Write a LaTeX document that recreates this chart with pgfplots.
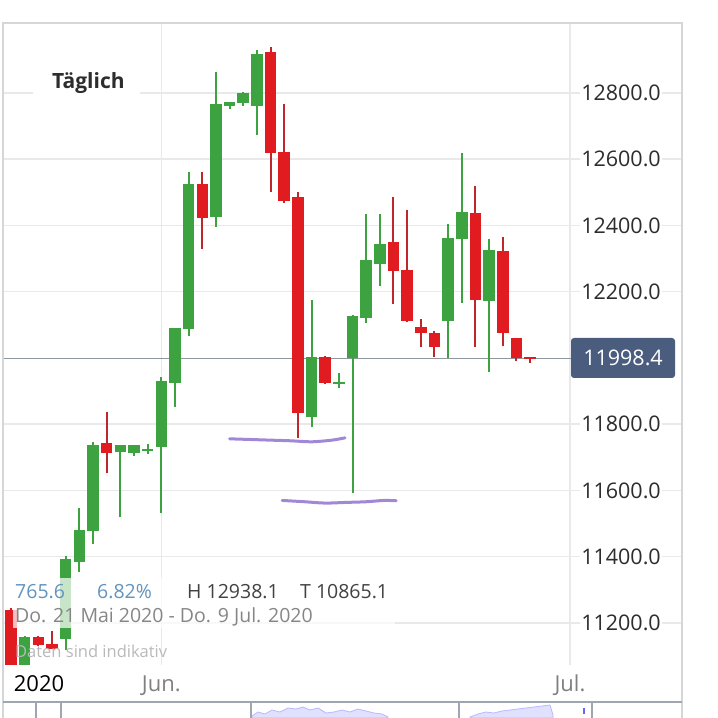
\documentclass[border=0pt]{standalone}
\usepackage{fontspec}
\setmainfont{Open Sans}
\usepackage{pgfplots}
\pgfplotsset{compat=1.18}
\usepackage{pgfplotstable}

\definecolor{cg}{RGB}{61,163,64}
\definecolor{cr}{RGB}{224,28,33}
\definecolor{crw}{RGB}{190,40,45}
\definecolor{gridc}{RGB}{233,233,235}
\definecolor{framec}{RGB}{214,214,216}
\definecolor{pricec}{RGB}{142,151,158}
\definecolor{boxc}{RGB}{74,93,126}
\definecolor{lav}{RGB}{160,136,214}
\definecolor{infob}{RGB}{100,148,190}
\definecolor{txt}{RGB}{45,45,45}
\definecolor{navc}{RGB}{160,166,175}
\newcommand\fs[1]{\fontsize{#1}{#1}\selectfont}

\pgfplotstableread{
i o h l c
2 11000 11160 10950 11157
5 11153 11401 11117 11392
6 11383 11546 11353 11480
7 11477 11746 11437 11737
9 11715 11737 11519 11737
10 11712 11737 11703 11737
11 11719 11740 11709 11725
12 11731 11942 11531 11930
13 11924 12092 11851 12090
14 12087 12561 12066 12525
16 12425 12863 12395 12767
17 12761 12773 12752 12773
18 12770 12803 12761 12800
19 12761 12930 12673 12918
23 11821 12175 11791 12002
25 11921 11954 11909 11927
26 11999 12129 11592 12126
27 12120 12434 12105 12295
28 12283 12434 12217 12344
33 12111 12404 11999 12362
34 12359 12619 12166 12440
36 12172 12359 11957 12326
}\greens

\pgfplotstableread{
i o h l c
1 11238 11245 10865.1 11000
3 11157 11160 11130 11135
4 11138 11175 11120 11123
8 11743 11836 11652 11712
15 12525 12561 12329 12422
20 12924 12938.1 12501 12619
21 12622 12767 12468 12474
22 12486 12501 11758 11833
24 12002 12005 11920 11924
29 12350 12486 12163 12262
30 12265 12447 12108 12111
31 12093 12117 12033 12075
32 12075 12081 12002 12033
35 12437 12519 12033 12175
37 12323 12365 12036 12075
38 12060 12060 11990 11999
39 12003 12003 11984 11998.4
}\reds

\begin{document}
\begin{tikzpicture}
\path[use as bounding box, fill=white] (0,0) rectangle (718pt,718pt);
\begin{axis}[
  at={(3pt,53pt)}, anchor=south west,
  width=679pt, height=642pt, scale only axis,
  xmin=0.414, xmax=50.12, ymin=11073.2, ymax=13011.3,
  axis line style={draw=none},
  major tick length=0pt,
  ytick={11200,11400,11600,11800,12200,12400,12600,12800},
  scaled y ticks=false,
  ymajorgrids, xmajorgrids,
  grid style={gridc, line width=1.5pt},
  xtick={12,41.92}, xticklabels={Jun.,Jul.},
  extra x ticks={3.05}, extra x tick labels={2020},
  extra x tick style={grid=none, xticklabel style={text=black}},
  xticklabel style={anchor=base, yshift=-27pt, text=gray, font=\fs{22}},
  yticklabel pos=right,
  yticklabel style={anchor=center, xshift=-61pt, fill=white, inner sep=1pt, text=txt, font=\fs{21.5}},
  /pgf/number format/.cd, fixed, fixed zerofill, precision=1, 1000 sep={}, assume math mode=true,
]
\addplot[color=pricec, line width=1.5pt, forget plot] coordinates {(0.414,11998.4) (42,11998.4)};
% wicks
\addplot[draw=none, mark=none, forget plot, error bars/.cd, y dir=plus, y explicit, error mark=none,
  error bar style={line width=2pt, draw=cg}] table[x=i, y=l, y error expr=\thisrow{h}-\thisrow{l}] {\greens};
\addplot[draw=none, mark=none, forget plot, error bars/.cd, y dir=plus, y explicit, error mark=none,
  error bar style={line width=2pt, draw=crw}] table[x=i, y=l, y error expr=\thisrow{h}-\thisrow{l}] {\reds};
% bodies
\addplot[draw=none, mark=none, forget plot, error bars/.cd, y dir=plus, y explicit, error mark=none,
  error bar style={line width=11.5pt, draw=cg}] table[x=i, y=o, y error expr=\thisrow{c}-\thisrow{o}] {\greens};
\addplot[draw=none, mark=none, forget plot, error bars/.cd, y dir=plus, y explicit, error mark=none,
  error bar style={line width=11.5pt, draw=cr}] table[x=i, y=c, y error expr=\thisrow{o}-\thisrow{c}] {\reds};
% hand-drawn support strokes
\addplot[smooth, color=lav, line width=3pt, line cap=round, forget plot] coordinates {
 (17.0,11756) (18.5,11754) (20.0,11752) (21.5,11750) (23.0,11747) (24.5,11752) (25.45,11759)};
\addplot[smooth, color=lav, line width=3pt, line cap=round, forget plot] coordinates {
 (20.85,11570) (22.5,11566) (24.0,11562) (25.5,11564) (27.0,11566) (28.3,11570) (29.2,11569)};
\end{axis}

% navigator area chart
\begin{axis}[
  at={(251pt,0pt)}, anchor=south west,
  width=329pt, height=16pt, scale only axis,
  xmin=251, xmax=580, ymin=0, ymax=16, hide axis, clip=true,
]
\addplot[fill=blue!12, draw=blue!28, line width=0.8pt] coordinates {
 (252,2) (258,6) (265,4) (272,8) (280,6) (288,10) (296,9) (303,11) (310,8) (318,10) (326,5) (334,6) (342,8) (350,6) (358,9) (366,7) (374,5) (382,4) (388,1)} \closedcycle;
\addplot[fill=blue!12, draw=blue!28, line width=0.8pt] coordinates {
 (470,1) (478,4) (486,6) (494,5) (502,7) (510,8) (518,9) (526,10) (534,11) (542,12) (550,13) (553,3)} \closedcycle;
\end{axis}

\begin{scope}[shift={(0,718pt)}, yscale=-1, x=1pt, y=1pt]
  % frame
  \draw[framec, line width=1.5pt] (3,718) -- (3,23) -- (682,23) -- (682,718);
  % navigator
  \draw[navc, line width=1.5pt] (3,702) -- (682,702);
  \foreach \xx in {36,61,251,459,592} \draw[navc, line width=1.2pt] (\xx,702) -- (\xx,718);
  \draw[blue!60, line width=1.5pt] (584,708) -- (584,714);
  % title
  \fill[white] (33,66) rectangle (140,96);
  \node[anchor=base west, inner sep=0pt, text=txt, font=\fs{21}\bfseries] at (52,89) {Täglich};
  % price label
  \fill[boxc, rounded corners=3pt] (571,338) rectangle (675,378);
  \node[text=white, font=\fs{21.5}, inner sep=0pt] at (623,358) {11998.4};
  % info overlay
  \fill[white, fill opacity=0.72] (13,578) rectangle (395,628);
  \node[anchor=base west, inner sep=0pt, text=infob, font=\fs{19.5}] at (15,599) {765.6};
  \node[anchor=base west, inner sep=0pt, text=infob, font=\fs{19.5}] at (97,599) {6.82\%};
  \node[anchor=base west, inner sep=0pt, text=txt!90, font=\fs{19.5}] at (187,599) {H 12938.1};
  \node[anchor=base west, inner sep=0pt, text=txt!90, font=\fs{19.5}] at (300,599) {T 10865.1};
  \node[anchor=base west, inner sep=0pt, text=gray!95, font=\fs{19.5}] at (15,623) {Do. 21 Mai 2020 - Do. 9 Jul. 2020};
  \node[anchor=base west, inner sep=0pt, text=gray!55, font=\fs{16.5}] at (15,658) {Daten sind indikativ};
\end{scope}
\end{tikzpicture}
\end{document}
